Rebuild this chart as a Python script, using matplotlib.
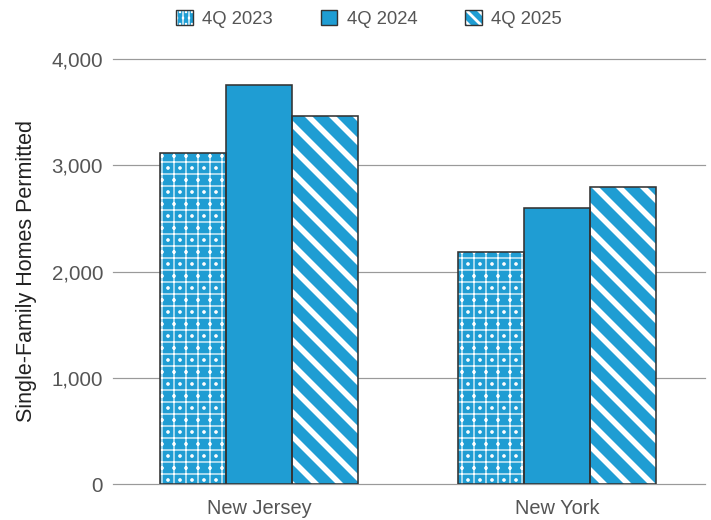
import matplotlib
matplotlib.use("Agg")
import matplotlib.pyplot as plt
from matplotlib.patches import Patch
from matplotlib.legend_handler import HandlerTuple
import numpy as np

# Single-family homes permitted, fourth quarter of each year
states = ["New Jersey", "New York"]
series = ["4Q 2023", "4Q 2024", "4Q 2025"]
q4_2023 = [3120, 2180]
q4_2024 = [3760, 2600]
q4_2025 = [3460, 2800]
y_ticks = [0, 1000, 2000, 3000, 4000]

values = [q4_2023, q4_2024, q4_2025]
hatches = ["+.", None, "\\"]
hatch_widths = [1.2, 1.0, 5.6]
# the legend swatches are small, so they use a finer version of each pattern
legend_hatches = ["||..", None, "\\\\"]
legend_hatch_widths = {"||..": 1.3, "\\\\": 2.8}

BLUE = "#1f9dd3"
EDGE = "#333333"
TEXT = "#555555"
GRID = "#9a9a9a"

plt.rcParams["font.family"] = ["Liberation Sans", "DejaVu Sans"]

DPI = 72
fig = plt.figure(figsize=(711 / DPI, 520 / DPI), dpi=DPI)
ax = fig.add_axes([113 / 711, 1 - 484 / 520, (705 - 113) / 711, (484 - 59) / 520])

x = np.arange(len(states))
width = 0.222
offsets = [-width, 0.0, width]

handles = []
for vals, hatch, hw, lh, off in zip(values, hatches, hatch_widths, legend_hatches, offsets):
    if hatch:
        with plt.rc_context({"hatch.linewidth": hw}):
            fill = ax.bar(x + off, vals, width, color=BLUE, edgecolor="white",
                          hatch=hatch, linewidth=0, zorder=2)
            for p in fill:
                if hasattr(p, "set_hatch_linewidth"):
                    p.set_hatch_linewidth(hw)
        fp = Patch(facecolor=BLUE, edgecolor="white", hatch=lh, linewidth=0)
    else:
        ax.bar(x + off, vals, width, color=BLUE, linewidth=0, zorder=2)
        fp = Patch(facecolor=BLUE, linewidth=0)
    ax.bar(x + off, vals, width, fill=False, edgecolor=EDGE, linewidth=1.6, zorder=3)
    op = Patch(fill=False, edgecolor=EDGE, linewidth=1.4)
    handles.append((fp, op))

ax.set_xlim(-0.49, 1.497)
ax.set_ylim(0, 4000)
ax.set_yticks(y_ticks)
ax.set_yticklabels([f"{v:,}" for v in y_ticks])
ax.set_xticks(x)
ax.set_xticklabels(states)
ax.tick_params(axis="y", length=0, pad=10, labelsize=20.5, labelcolor=TEXT)
ax.tick_params(axis="x", length=0, pad=15, labelsize=20, labelcolor=TEXT)
ax.grid(axis="y", color=GRID, linewidth=1.2, zorder=0)
ax.set_axisbelow(True)
for s in ax.spines.values():
    s.set_visible(False)
for gl in ax.get_ygridlines():
    gl.set_clip_on(False)

ax.set_ylabel("Single-Family Homes Permitted", fontsize=21.5, color="#222222", labelpad=14)

leg = fig.legend(handles, series, handler_map={tuple: HandlerTuple(ndivide=1, pad=0)},
                 loc="center", bbox_to_anchor=(369 / 711, 1 - 19 / 520), ncol=3,
                 frameon=False, fontsize=18.5, labelcolor=TEXT,
                 handlelength=0.9, handleheight=0.9, handletextpad=0.5,
                 columnspacing=2.6)

# swatch patches are copies, so give their hatches the intended stroke width
for p in leg.findobj(Patch):
    h = p.get_hatch()
    if h in legend_hatch_widths and hasattr(p, "set_hatch_linewidth"):
        p.set_hatch_linewidth(legend_hatch_widths[h])

fig.savefig("out.png", dpi=DPI)
